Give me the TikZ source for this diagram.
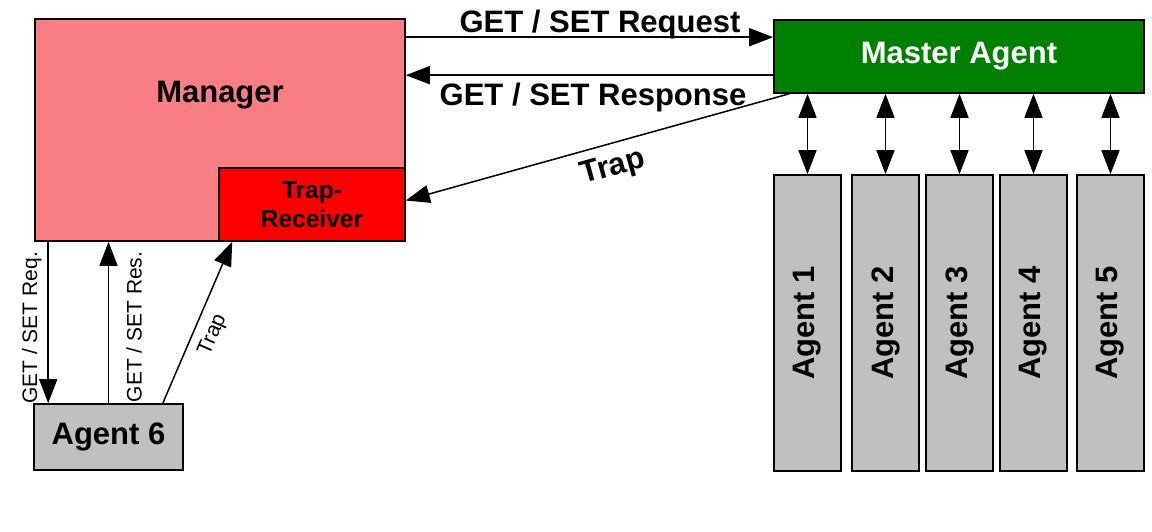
\documentclass[tikz,border=0pt]{standalone}
\usepackage{fontspec}
\setmainfont{Liberation Sans}
\usepackage{graphicx}
\usetikzlibrary{arrows.meta,calc}
\definecolor{mgrpink}{RGB}{249,126,132}
\definecolor{trapred}{RGB}{255,0,0}
\definecolor{mastergreen}{RGB}{0,128,0}
\definecolor{agentgray}{RGB}{192,192,192}
\begin{document}
\begin{tikzpicture}[x=1pt,y=-1pt,
  box/.style={draw=black, line width=1.6pt, rectangle, inner sep=0pt},
  bigtxt/.style={font=\bfseries\fontsize{31}{36}\selectfont},
  midtxt/.style={font=\bfseries\fontsize{24.5}{29}\selectfont},
  smalltxt/.style={font=\fontsize{21}{25}\selectfont},
  conn/.style={line width=1.5pt, -{Triangle[length=24pt,width=18pt]}},
  biconn/.style={line width=1.5pt, {Triangle[length=24pt,width=18pt]}-{Triangle[length=24pt,width=18pt]}}]
\useasboundingbox (0,0) rectangle (1152,532);
% boxes
\node[box, fill=mgrpink, minimum width=370pt, minimum height=222pt] (mgr) at (220,130) {};
\node[bigtxt, anchor=base] (mgrlbl) at (220,103) {Manager};
\node[box, fill=trapred, minimum width=186pt, minimum height=73pt, midtxt, align=center] (trap) at (312,204.5) {Trap-\\Receiver};
\node[box, fill=mastergreen, minimum width=370pt, minimum height=73pt, bigtxt, text=white] (master) at (959,56.5) {Master Agent};
\foreach \i/\x in {1/807.5, 2/885.5, 3/959.5, 4/1033.5, 5/1110.5}{
  \node[box, fill=agentgray, minimum width=67pt, minimum height=296pt, bigtxt] (a\i) at (\x,323) {\rotatebox{90}{Agent \i}};
}
\node[box, fill=agentgray, minimum width=149pt, minimum height=66pt, bigtxt] (ag6) at (108.5,437) {Agent 6};
% coordinates
\coordinate (reqA) at ($(mgr.north east)+(0,19)$);
\coordinate (resA) at ($(master.north west)+(0,56)$);
\coordinate (trapA) at ($(master.south west)+(16,0)$);
\coordinate (trapB) at ($(trap.east)+(0,-4)$);
\coordinate (sreqA) at ($(mgr.south west)+(14,0)$);
\coordinate (strapA) at ($(ag6.north east)+(-21,0)$);
\coordinate (strapB) at ($(trap.south west)+(14,0)$);
% connectors
\draw[conn] (reqA) -- (reqA -| master.west);
\draw[conn] (resA) -- (resA -| mgr.east);
\draw[conn] (trapA) -- (trapB);
\foreach \i in {1,...,5}{
  \draw[biconn] (a\i.north |- master.south) -- (a\i.north);
}
\draw[conn] (sreqA) -- (sreqA |- ag6.north);
\draw[conn] (ag6.north) -- (ag6.north |- mgr.south);
\draw[conn] (strapA) -- (strapB);
% labels
\node[bigtxt, anchor=base] (reqlbl) at (600,33) {GET / SET Request};
\node[bigtxt, anchor=base] (reslbl) at (593,106) {GET / SET Response};
\node[bigtxt, rotate=15.5, inner sep=1pt] (traplbl) at (613,168) {Trap};
\node[smalltxt, rotate=90, anchor=base] (sreqlbl) at (37,328) {GET / SET Req.};
\node[smalltxt, rotate=90, anchor=base] (sreslbl) at (141.5,327) {GET / SET Res.};
\node[smalltxt, rotate=66.5, inner sep=1pt] (straplbl) at (213,335) {Trap};
\end{tikzpicture}
\end{document}
